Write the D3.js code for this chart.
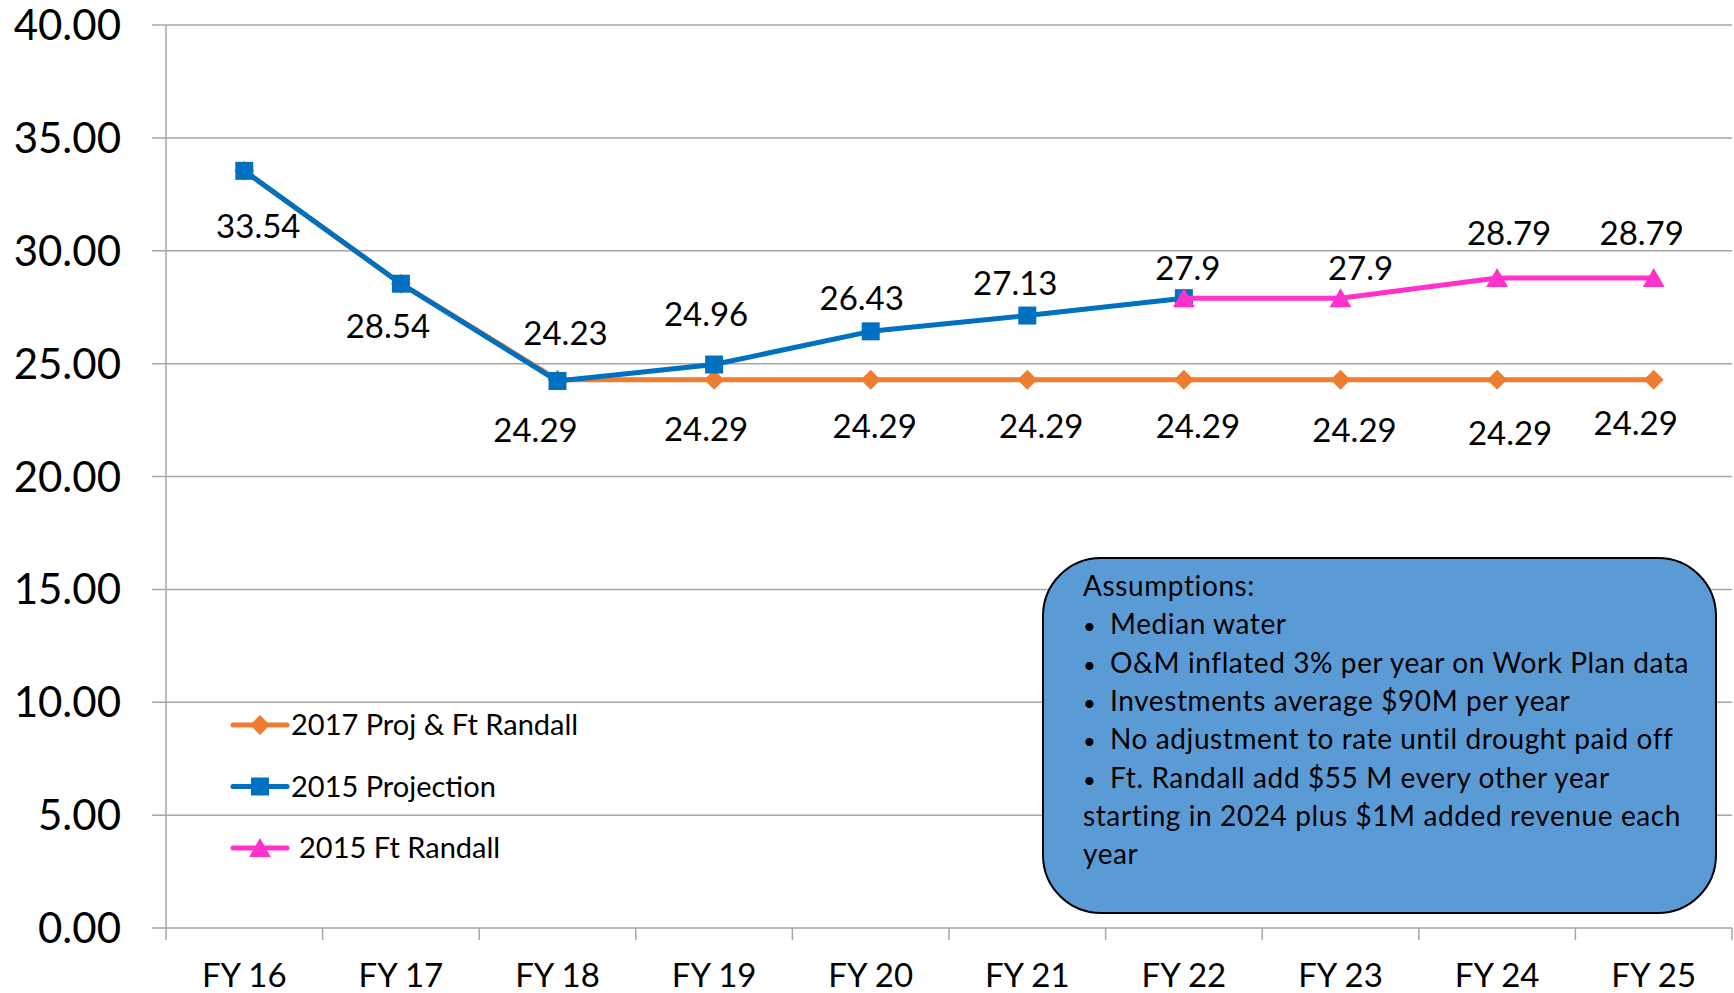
<!DOCTYPE html>
<html>
<head>
<meta charset="utf-8">
<script src="https://cdn.jsdelivr.net/npm/d3@7"></script>
<style>
  body { margin: 0; background: #fff; }
  svg { display: block; font-family: Lato, "Open Sans", sans-serif; }
</style>
</head>
<body>
<div id="chart"></div>
<script>
// chart data
const categories = ["FY 16", "FY 17", "FY 18", "FY 19", "FY 20", "FY 21", "FY 22", "FY 23", "FY 24", "FY 25"];
const proj2017 = [33.54, 28.54, 24.29, 24.29, 24.29, 24.29, 24.29, 24.29, 24.29, 24.29];
const proj2015 = [33.54, 28.54, 24.23, 24.96, 26.43, 27.13, 27.9, null, null, null];
const randall2015 = [null, null, null, null, null, null, 27.9, 27.9, 28.79, 28.79];
const yTicks = [0, 5, 10, 15, 20, 25, 30, 35, 40];
const assumptions = [
    "Median water",
    "O&M inflated 3% per year on Work Plan data",
    "Investments average $90M per year",
    "No adjustment to rate until drought paid off",
    "Ft. Randall add $55 M every other year"
];
const assumptionsTail = ["starting in 2024 plus $1M added revenue each", "year"];

// hand placed data labels in the original (null = no label shown)
const orangeLabelPos = [[14, 55], [-13, 42], [-22, 50], [-8, 49], [4, 46], [14, 46], [14, 46], [14, 50], [13, 53], [-18, 43]];
const blueLabelPos = [null, null, [8, -48], [-8, -50], [-9, -33], [-12, -32], [4, -30], null, null, null];
const pinkLabelPos = [null, null, null, null, null, null, null, [20, -30], [12, -45], [-12, -45]];

const app = () => {
    const width = 1734, height = 993;
    const margin = { left: 166, right: 2, top: 25, bottom: 65 };

    const svg = d3.select("#chart").append("svg")
        .attr("width", width)
        .attr("height", height);

    const x = d3.scaleBand()
        .domain(categories)
        .range([margin.left, width - margin.right]);

    const y = d3.scaleLinear()
        .domain([0, 40])
        .range([height - margin.bottom, margin.top]);

    const cx = i => x(categories[i]) + x.bandwidth() / 2;

    // gridlines
    svg.append("g")
        .selectAll("line")
        .data(yTicks)
        .enter().append("line")
        .attr("x1", margin.left - 14)
        .attr("x2", width - margin.right)
        .attr("y1", d => y(d))
        .attr("y2", d => y(d))
        .attr("stroke", "#a6a6a6")
        .attr("stroke-width", 1.5);

    // y axis line
    svg.append("line")
        .attr("x1", margin.left).attr("x2", margin.left)
        .attr("y1", y(40)).attr("y2", y(0) + 12)
        .attr("stroke", "#a6a6a6")
        .attr("stroke-width", 1.5);

    // y labels
    svg.append("g")
        .selectAll("text")
        .data(yTicks)
        .enter().append("text")
        .attr("x", 121)
        .attr("y", d => y(d))
        .attr("dy", "0.36em")
        .attr("text-anchor", "end")
        .attr("font-size", 42)
        .text(d => d.toFixed(2));

    // x labels
    const xAxis = d3.axisBottom(x).tickSize(0).tickPadding(36);
    const gx = svg.append("g")
        .attr("transform", `translate(0,${y(0)})`)
        .call(xAxis);
    gx.select(".domain").remove();
    gx.selectAll("text")
        .attr("font-size", 33)
        .attr("font-family", "Lato")
        .attr("fill", "#000");

    // x ticks between categories
    svg.append("g")
        .selectAll("line")
        .data(categories)
        .enter().append("line")
        .attr("x1", d => x(d) + x.bandwidth())
        .attr("x2", d => x(d) + x.bandwidth())
        .attr("y1", y(0))
        .attr("y2", y(0) + 12)
        .attr("stroke", "#a6a6a6")
        .attr("stroke-width", 1.5);

    const series = [
        { name: "2017 Proj & Ft Randall", values: proj2017, color: "#ED7D31", shape: "diamond", labels: orangeLabelPos },
        { name: "2015 Projection", values: proj2015, color: "#0070C0", shape: "square", labels: blueLabelPos },
        { name: "2015 Ft Randall", values: randall2015, color: "#FF33CC", shape: "triangle", labels: pinkLabelPos }
    ];

    const markerPath = (shape) => {
        if (shape === "diamond") return "M0,-10L10,0L0,10L-10,0Z";
        if (shape === "square") return "M-9,-9H9V9H-9Z";
        return "M0,-10L11,9H-11Z";
    };

    const line = d3.line()
        .defined(d => d.v != null)
        .x(d => cx(d.i))
        .y(d => y(d.v));

    series.forEach(s => {
        const pts = s.values.map((v, i) => ({ v, i }));
        svg.append("path")
            .datum(pts)
            .attr("d", line)
            .attr("fill", "none")
            .attr("stroke", s.color)
            .attr("stroke-width", 5)
            .attr("stroke-linejoin", "round");

        svg.append("g")
            .selectAll("path")
            .data(pts.filter(d => d.v != null))
            .enter().append("path")
            .attr("d", markerPath(s.shape))
            .attr("transform", d => `translate(${cx(d.i)},${y(d.v)})`)
            .attr("fill", s.color);
    });

    // data labels
    series.forEach(s => {
        svg.append("g")
            .selectAll("text")
            .data(s.values.map((v, i) => ({ v, i })).filter(d => d.v != null && s.labels[d.i]))
            .enter().append("text")
            .attr("x", d => cx(d.i) + s.labels[d.i][0])
            .attr("y", d => y(d.v) + s.labels[d.i][1])
            .attr("dy", "0.36em")
            .attr("text-anchor", "middle")
            .attr("font-size", 33)
            .text(d => d.v);
    });

    // legend
    const legend = svg.append("g");
    series.forEach((s, k) => {
        const ly = 725 + k * 61.5;
        legend.append("line")
            .attr("x1", 233).attr("x2", 287)
            .attr("y1", ly).attr("y2", ly)
            .attr("stroke", s.color)
            .attr("stroke-width", 5)
            .attr("stroke-linecap", "round");
        legend.append("path")
            .attr("d", markerPath(s.shape))
            .attr("transform", `translate(260,${ly})`)
            .attr("fill", s.color);
        legend.append("text")
            .attr("x", k === 2 ? 299 : 291)
            .attr("y", ly)
            .attr("dy", "0.36em")
            .attr("font-size", 29)
            .text(s.name);
    });

    // assumptions box
    const box = svg.append("g")
        .attr("font-size", 28)
        .attr("letter-spacing", 0.6);
    box.append("rect")
        .attr("x", 1043).attr("y", 558)
        .attr("width", 673).attr("height", 355)
        .attr("rx", 58).attr("ry", 58)
        .attr("fill", "#5B9BD5")
        .attr("stroke", "#000")
        .attr("stroke-width", 2);

    const lh = 38.3;
    const tx = 1083, ty0 = 596;
    box.append("text")
        .attr("x", tx).attr("y", ty0)
        .text("Assumptions:");
    assumptions.forEach((t, i) => {
        box.append("text")
            .attr("x", tx).attr("y", ty0 + (i + 1) * lh)
            .attr("font-size", 22)
            .text("\u2022");
        box.append("text")
            .attr("x", tx + 27).attr("y", ty0 + (i + 1) * lh)
            .text(t);
    });
    assumptionsTail.forEach((t, i) => {
        box.append("text")
            .attr("x", tx).attr("y", ty0 + (assumptions.length + 1 + i) * lh)
            .text(t);
    });
};

window.addEventListener("load", function() {
    app();
});
</script>
</body>
</html>
